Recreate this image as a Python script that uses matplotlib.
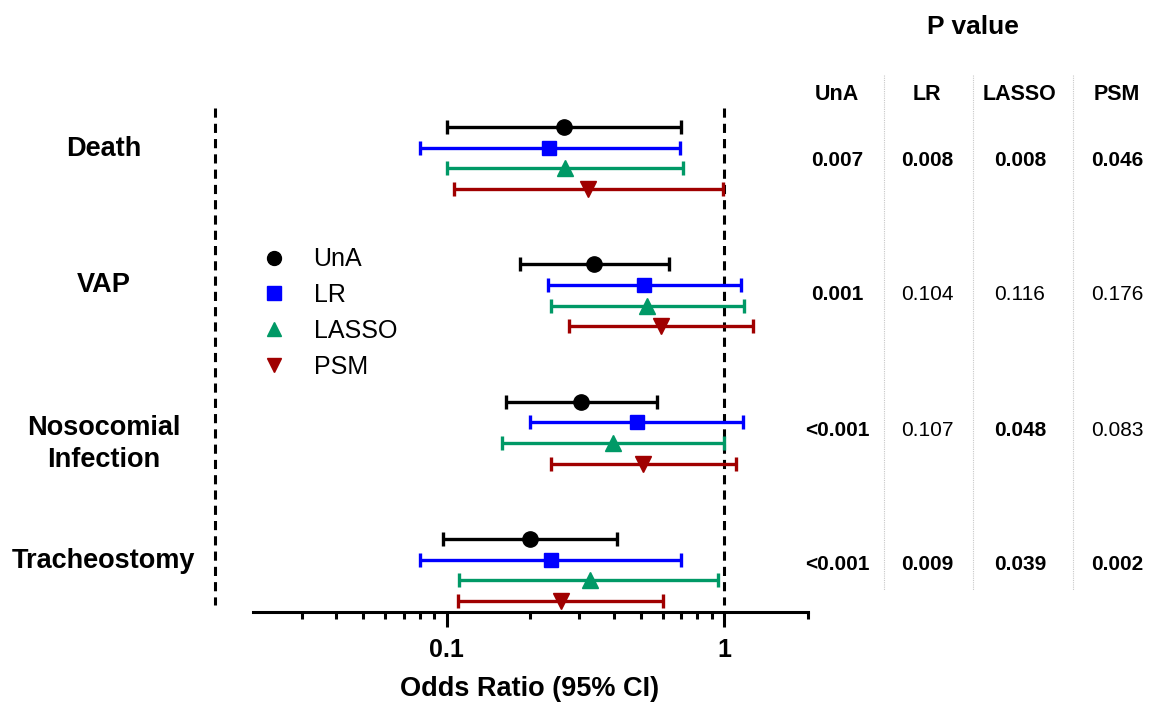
import matplotlib.pyplot as plt
from matplotlib.lines import Line2D
from matplotlib.ticker import FixedLocator, NullFormatter

plt.rcParams['font.family'] = ['Liberation Sans', 'DejaVu Sans']

# datos
outcomes = ["Death", "VAP", "Nosocomial\nInfection", "Tracheostomy"]
methods = ["UnA", "LR", "LASSO", "PSM"]

# odds ratio e intervalos, una lista por metodo (orden: Death, VAP, Noso, Trach)
or_una = [0.264, 0.338, 0.305, 0.200]
lo_una = [0.100, 0.183, 0.164, 0.097]
hi_una = [0.700, 0.634, 0.571, 0.412]

or_lr = [0.234, 0.515, 0.486, 0.237]
lo_lr = [0.080, 0.231, 0.200, 0.080]
hi_lr = [0.690, 1.150, 1.170, 0.700]

or_lasso = [0.267, 0.527, 0.397, 0.327]
lo_lasso = [0.100, 0.237, 0.158, 0.111]
hi_lasso = [0.709, 1.180, 1.000, 0.950]

or_psm = [0.323, 0.592, 0.511, 0.257]
lo_psm = [0.106, 0.276, 0.237, 0.110]
hi_psm = [0.985, 1.270, 1.100, 0.601]

# p valores (texto, negrita si es significativo)
p_una = ["0.007", "0.001", "<0.001", "<0.001"]
p_lr = ["0.008", "0.104", "0.107", "0.009"]
p_lasso = ["0.008", "0.116", "0.048", "0.039"]
p_psm = ["0.046", "0.176", "0.083", "0.002"]

colores = ["black", "#0000FF", "#009966", "#A00000"]
marcadores = ["o", "s", "^", "v"]
tam_marcador = [11, 10.5, 11, 11]

W, H = 1149, 704
fig = plt.figure(figsize=(W / 100, H / 100), dpi=100)

def fx(px):
    return px / W

def fy(py):
    return 1 - py / H

ax = fig.add_axes([fx(252.6), fy(612), fx(808) - fx(252.6), fy(100) - fy(612)])

datos = [(or_una, lo_una, hi_una), (or_lr, lo_lr, hi_lr),
         (or_lasso, lo_lasso, hi_lasso), (or_psm, lo_psm, hi_psm)]

for j, (ors, los, his) in enumerate(datos):
    ys = [i + (j - 1.5) * 0.15 for i in range(len(outcomes))]
    err = [[o - l for o, l in zip(ors, los)], [h - o for o, h in zip(ors, his)]]
    ax.errorbar(ors, ys, xerr=err, fmt=marcadores[j], color=colores[j],
                markersize=tam_marcador[j], elinewidth=2.4, capsize=4.8,
                capthick=2.4, zorder=3)

ax.set_xscale("log")
ax.set_xlim(0.02, 2)
ax.set_ylim(3.306, -0.422)

# linea de referencia en OR = 1
ax.plot([1, 1], [-0.364, 3.255], ls=(0, (3, 2)), color="black", lw=2.2, zorder=2)

for lado in ["top", "right", "left"]:
    ax.spines[lado].set_visible(False)
ax.spines["bottom"].set_linewidth(2.2)
ax.set_yticks([])

ax.xaxis.set_major_locator(FixedLocator([0.1, 1]))
ax.set_xticklabels(["0.1", "1"], fontsize=18, fontweight="bold")
menores = [0.03, 0.04, 0.05, 0.06, 0.07, 0.08, 0.09,
           0.2, 0.3, 0.4, 0.5, 0.6, 0.7, 0.8, 0.9, 2]
ax.xaxis.set_minor_locator(FixedLocator(menores))
ax.xaxis.set_minor_formatter(NullFormatter())
ax.tick_params(axis="x", which="major", length=10.5, width=2.2, pad=8)
ax.tick_params(axis="x", which="minor", length=5, width=2.2)

fig.text(fx(530), fy(689), "Odds Ratio (95% CI)", fontsize=19.5,
         fontweight="bold", ha="center", va="center")

# linea punteada a la izquierda
fig.add_artist(Line2D([fx(215), fx(215)], [fy(108), fy(605)],
                      transform=fig.transFigure, ls=(0, (3, 2)),
                      color="black", lw=2.2))

# etiquetas de los desenlaces
y_etiquetas = [149, 285, 444, 561]
for texto, yy in zip(outcomes, y_etiquetas):
    fig.text(fx(104), fy(yy), texto, fontsize=19.5, fontweight="bold",
             ha="center", va="center", linespacing=1.3)

# leyenda
handles = [Line2D([], [], ls="none", marker=m, color=c, markersize=10)
           for m, c in zip(marcadores, colores)]
fig.legend(handles, methods, loc="upper left",
           bbox_to_anchor=(fx(246), fy(235)), frameon=False, fontsize=18,
           handlelength=1.2, handletextpad=1.0, labelspacing=0.47, borderpad=0)

# tabla de p valores
fig.text(fx(973), fy(27), "P value", fontsize=19, fontweight="bold",
         ha="center", va="center")
x_cols = [837, 927, 1020, 1117]
y_filas = [160, 295, 431, 565]
columnas = [p_una, p_lr, p_lasso, p_psm]
for xc, nombre, col in zip(x_cols, methods, columnas):
    fig.text(fx(xc), fy(95), nombre, fontsize=15.5, fontweight="bold",
             ha="center", va="center")
    for yy, p in zip(y_filas, col):
        negrita = p.startswith("<") or float(p) < 0.05
        fig.text(fx(xc), fy(yy), p, fontsize=15,
                 fontweight="bold" if negrita else "normal",
                 ha="center", va="center")

for xs in [884, 973, 1073]:
    fig.add_artist(Line2D([fx(xs), fx(xs)], [fy(75), fy(590)],
                          transform=fig.transFigure, ls=(0, (1, 1)),
                          color="#C8C8C8", lw=0.8))

fig.savefig("out.png", dpi=100)
